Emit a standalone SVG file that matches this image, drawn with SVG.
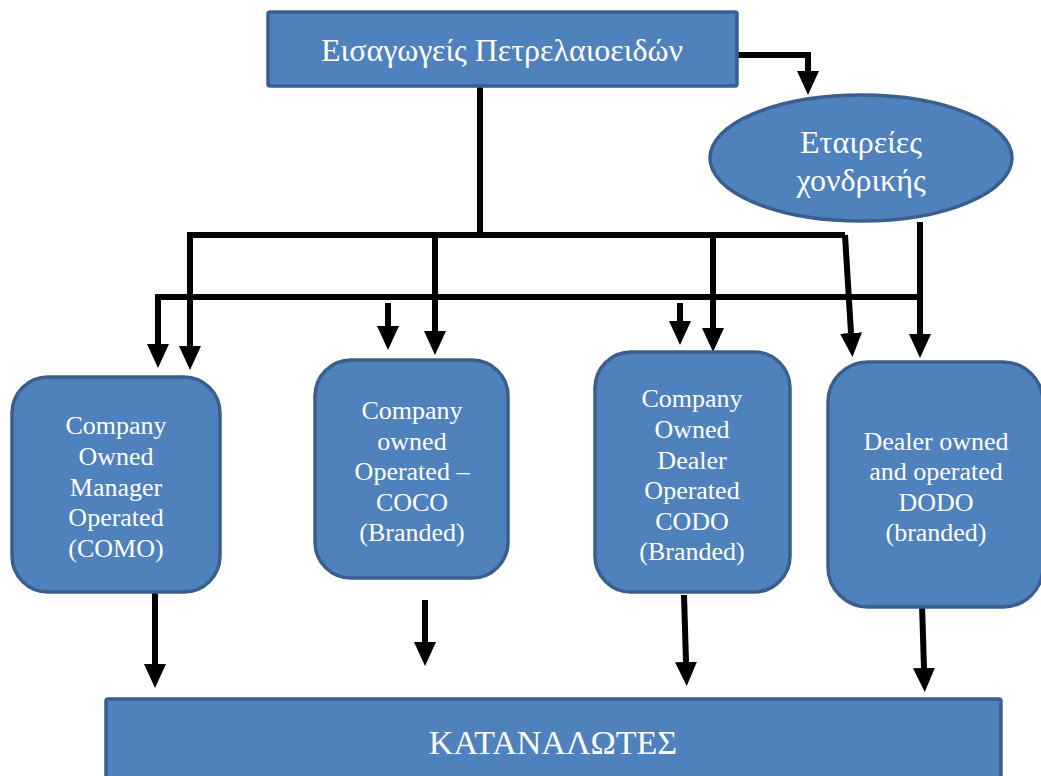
<svg xmlns="http://www.w3.org/2000/svg" width="1041" height="776" viewBox="0 0 1041 776">
<style>
.n{fill:#4F81BD;stroke:#3A5F8C;stroke-width:3.5}
.t{font-family:"Liberation Serif","Times New Roman",serif;fill:#fff;text-anchor:middle}
.big{font-size:32px}
.xl{font-size:34px}
.sm{font-size:26px}
.c{fill:none;stroke:#000;stroke-width:6}
.a{marker-end:url(#ah)}
</style>
<defs>
<marker id="ah" viewBox="0 0 24 22" refX="0" refY="11" markerWidth="24" markerHeight="22" markerUnits="userSpaceOnUse" orient="auto">
<path d="M0,0 L24,11 L0,22 z" fill="#000"/>
</marker>
</defs>
<rect width="1041" height="776" fill="#fff"/>
<g id="connectors">
<path class="c a" d="M737,55 H808 V71"/>
<path class="c" d="M480,86 V235"/>
<path class="c a" d="M190,235 V346"/>
<path class="c" d="M187,235 H845"/>
<path class="c a" d="M845,235 L851,333"/>
<path class="c a" d="M435,235 V331"/>
<path class="c a" d="M713,235 V328"/>
<path class="c" d="M155,297 H920"/>
<path class="c a" d="M158,297 V344"/>
<path class="c a" d="M920,222 V334"/>
<path class="c a" d="M388,303 V326"/>
<path class="c a" d="M680,303 V321"/>
<path class="c a" d="M155,585 V664"/>
<path class="c a" d="M425,600 V642"/>
<path class="c a" d="M684,595 L686,662"/>
<path class="c a" d="M922,605 L924,668"/>
</g>
<g id="importers">
<rect class="n" x="268" y="12" width="469" height="74" rx="2"/>
<text class="t big" x="502" y="61">Εισαγωγείς Πετρελαιοειδών</text>
</g>
<g id="wholesale">
<ellipse class="n" cx="861" cy="158" rx="151" ry="63"/>
<text class="t big" x="861" y="153">Εταιρείες</text>
<text class="t big" x="861" y="191">χονδρικής</text>
</g>
<g id="como">
<rect class="n" x="12" y="377" width="208" height="215" rx="36"/>
<text class="t sm" x="116" y="434">Company</text>
<text class="t sm" x="116" y="465">Owned</text>
<text class="t sm" x="116" y="496">Manager</text>
<text class="t sm" x="116" y="526">Operated</text>
<text class="t sm" x="116" y="557">(COMO)</text>
</g>
<g id="coco">
<rect class="n" x="315" y="360" width="193" height="218" rx="36"/>
<text class="t sm" x="412" y="419">Company</text>
<text class="t sm" x="412" y="450">owned</text>
<text class="t sm" x="412" y="480">Operated –</text>
<text class="t sm" x="412" y="511">COCO</text>
<text class="t sm" x="412" y="541">(Branded)</text>
</g>
<g id="codo">
<rect class="n" x="595" y="352" width="195" height="240" rx="36"/>
<text class="t sm" x="692" y="407">Company</text>
<text class="t sm" x="692" y="438">Owned</text>
<text class="t sm" x="692" y="469">Dealer</text>
<text class="t sm" x="692" y="499">Operated</text>
<text class="t sm" x="692" y="530">CODO</text>
<text class="t sm" x="692" y="560">(Branded)</text>
</g>
<g id="dodo">
<rect class="n" x="828" y="362" width="215" height="245" rx="40"/>
<text class="t sm" x="936" y="450">Dealer owned</text>
<text class="t sm" x="936" y="480">and operated</text>
<text class="t sm" x="936" y="511">DODO</text>
<text class="t sm" x="936" y="541">(branded)</text>
</g>
<g id="consumers">
<rect class="n" x="106" y="699" width="895" height="80" rx="2"/>
<text class="t xl" x="553" y="754">ΚΑΤΑΝΑΛΩΤΕΣ</text>
</g>
</svg>
